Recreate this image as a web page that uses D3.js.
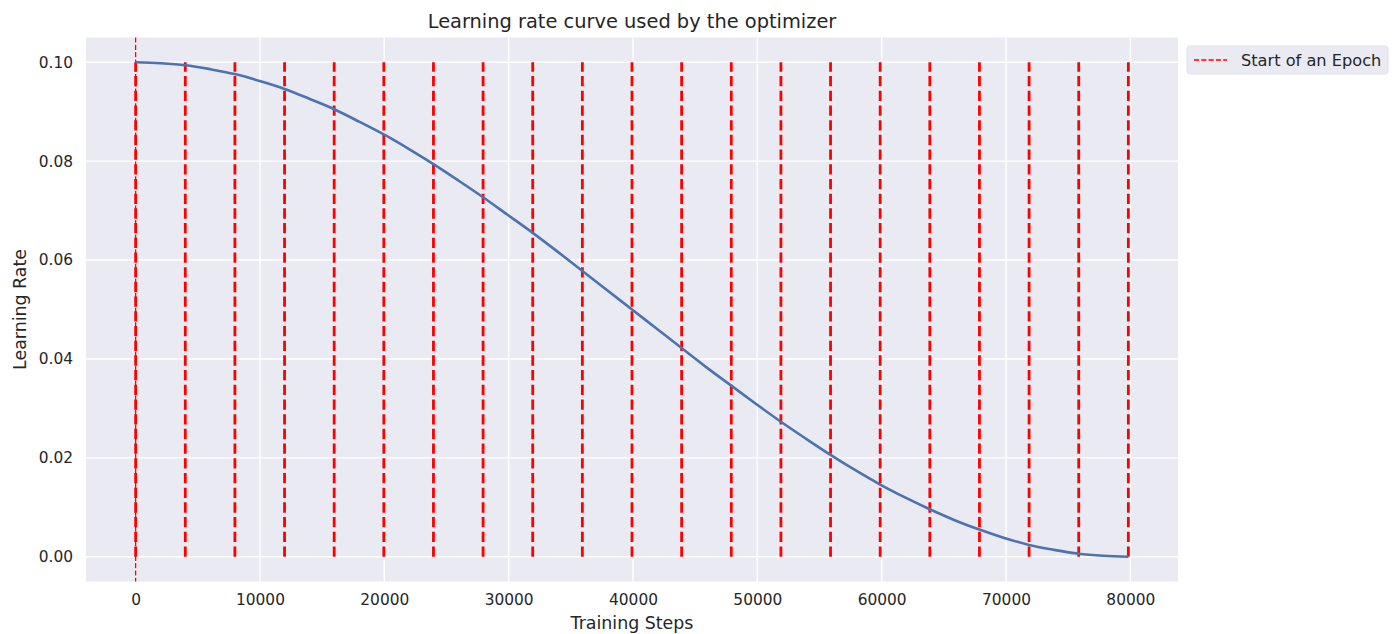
<!DOCTYPE html>
<html>
<head>
<meta charset="utf-8">
<script src="https://cdn.jsdelivr.net/npm/d3@7"></script>
<style>
  html, body { margin: 0; padding: 0; background: #ffffff; }
  svg { display: block; font-family: "DejaVu Sans", sans-serif; }
</style>
</head>
<body>
<svg id="chart" width="1400" height="634"></svg>
<script>
// Epoch start positions (training step) and learning rate read along the schedule
const epochStarts = [0, 3992, 7984, 11976, 15968, 19960, 23952, 27944, 31936, 35928, 39920,
  43912, 47904, 51896, 55888, 59880, 63872, 67864, 71856, 75848, 79840];

const lrSteps = [0, 1996, 3992, 5988, 7984, 9980, 11976, 13972, 15968, 17964, 19960,
  21956, 23952, 25948, 27944, 29940, 31936, 33932, 35928, 37924, 39920,
  41916, 43912, 45908, 47904, 49900, 51896, 53892, 55888, 57884, 59880,
  61876, 63872, 65868, 67864, 69860, 71856, 73852, 75848, 77844, 79840];
const lrValues = [0.1000, 0.0998, 0.0994, 0.0986, 0.0976, 0.0962, 0.0946, 0.0926, 0.0905, 0.0880,
  0.0854, 0.0825, 0.0794, 0.0761, 0.0727, 0.0691, 0.0655, 0.0617, 0.0578, 0.0539,
  0.0500, 0.0461, 0.0422, 0.0383, 0.0346, 0.0309, 0.0273, 0.0239, 0.0206, 0.0175,
  0.0146, 0.0120, 0.0096, 0.0074, 0.0055, 0.0038, 0.0024, 0.0014, 0.0006, 0.0002, 0.0000];

const xTicks = [0, 10000, 20000, 30000, 40000, 50000, 60000, 70000, 80000];
const yTicks = [0.00, 0.02, 0.04, 0.06, 0.08, 0.10];

const titleText = "Learning rate curve used by the optimizer";
const xLabel = "Training Steps";
const yLabel = "Learning Rate";
const legendLabel = "Start of an Epoch";

const svg = d3.select("#chart");
const plot = { left: 86, right: 1178, top: 37.5, bottom: 581.5 };

const xMax = d3.max(epochStarts);
const xPad = xMax * 0.05;
const x = d3.scaleLinear().domain([-xPad, xMax + xPad]).range([plot.left, plot.right]);
const yPad = 0.1 * 0.05;
const y = d3.scaleLinear().domain([-yPad, 0.1 + yPad]).range([plot.bottom, plot.top]);

const textColor = "#262626";

// background panel
svg.append("rect")
  .attr("x", plot.left).attr("y", plot.top)
  .attr("width", plot.right - plot.left).attr("height", plot.bottom - plot.top)
  .attr("fill", "#EAEAF2");

// grid lines
const grid = svg.append("g");
grid.selectAll("line.gx").data(xTicks).join("line")
  .attr("x1", d => x(d)).attr("x2", d => x(d))
  .attr("y1", plot.top).attr("y2", plot.bottom)
  .attr("stroke", "#ffffff").attr("stroke-width", 1.4);
grid.selectAll("line.gy").data(yTicks).join("line")
  .attr("y1", d => y(d)).attr("y2", d => y(d))
  .attr("x1", plot.left).attr("x2", plot.right)
  .attr("stroke", "#ffffff").attr("stroke-width", 1.4);

// axes (labels only, darkgrid style without spines or tick marks)
const xAxis = svg.append("g")
  .attr("transform", `translate(0,${plot.bottom})`)
  .call(d3.axisBottom(x).tickValues(xTicks).tickFormat(d3.format("d")).tickSize(0).tickPadding(13));
const yAxis = svg.append("g")
  .attr("transform", `translate(${plot.left},0)`)
  .call(d3.axisLeft(y).tickValues(yTicks).tickFormat(d3.format(".2f")).tickSize(0).tickPadding(13));
[xAxis, yAxis].forEach(g => {
  g.select(".domain").remove();
  g.selectAll("text")
    .attr("fill", textColor)
    .style("font-size", "15.4px")
    .style("font-family", "DejaVu Sans, sans-serif");
});

// thin full-height marker at the first epoch
svg.append("line")
  .attr("x1", x(epochStarts[0])).attr("x2", x(epochStarts[0]))
  .attr("y1", plot.top).attr("y2", plot.bottom)
  .attr("stroke", "#ff0000").attr("stroke-width", 1.3)
  .attr("stroke-dasharray", "5.1,2.2");

// epoch start lines from 0 to the peak learning rate
svg.append("g").selectAll("line").data(epochStarts).join("line")
  .attr("x1", d => x(d)).attr("x2", d => x(d))
  .attr("y1", y(0)).attr("y2", y(0.1))
  .attr("stroke", "#ff0000").attr("stroke-width", 2.8)
  .attr("stroke-dasharray", "10.3,4.4");

// learning rate curve
const line = d3.line()
  .x((d, i) => x(lrSteps[i]))
  .y(d => y(d))
  .curve(d3.curveMonotoneX);
svg.append("path")
  .datum(lrValues)
  .attr("d", line)
  .attr("fill", "none")
  .attr("stroke", "#4C72B0")
  .attr("stroke-width", 2.6);

// title and axis labels
svg.append("text")
  .attr("x", (plot.left + plot.right) / 2).attr("y", 21)
  .attr("text-anchor", "middle").attr("dominant-baseline", "central")
  .attr("fill", textColor).style("font-size", "19.4px")
  .text(titleText);
svg.append("text")
  .attr("x", (plot.left + plot.right) / 2).attr("y", 623)
  .attr("text-anchor", "middle").attr("dominant-baseline", "central")
  .attr("fill", textColor).style("font-size", "17.4px")
  .text(xLabel);
svg.append("text")
  .attr("transform", `translate(20,${(plot.top + plot.bottom) / 2}) rotate(-90)`)
  .attr("text-anchor", "middle").attr("dominant-baseline", "central")
  .attr("fill", textColor).style("font-size", "17.4px")
  .text(yLabel);

// legend
const legend = svg.append("g").attr("transform", "translate(1187,46)");
legend.append("rect")
  .attr("x", 0).attr("y", 0).attr("width", 201).attr("height", 28)
  .attr("rx", 3).attr("ry", 3)
  .attr("fill", "#EAEAF2").attr("stroke", "#dcdce6").attr("stroke-width", 0.8);
legend.append("line")
  .attr("x1", 7).attr("x2", 40).attr("y1", 14).attr("y2", 14)
  .attr("stroke", "#ff0000").attr("stroke-width", 1.3)
  .attr("stroke-dasharray", "5.1,2.2");
legend.append("text")
  .attr("x", 54).attr("y", 14)
  .attr("dominant-baseline", "central")
  .attr("fill", textColor).style("font-size", "16.2px")
  .text(legendLabel);
</script>
</body>
</html>
